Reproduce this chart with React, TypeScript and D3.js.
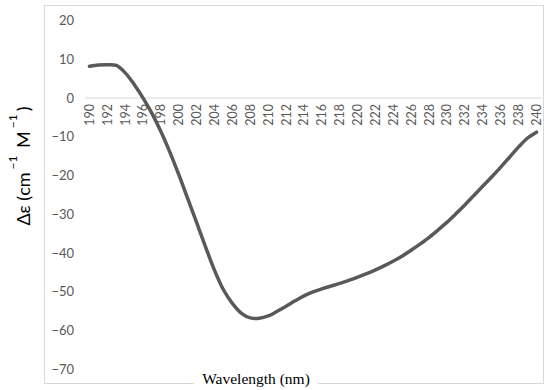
import React from 'react';
import * as d3 from 'd3';

// CD spectrum, one reading per nm
const wavelengths: number[] = d3.range(190, 241);
const deltaEps: number[] = [
  8.2, 8.5, 8.6, 8.4, 6.5, 3.5, 0, -4, -8.7, -14,
  -19.8, -26, -32.2, -38.5, -44.5, -49.5, -53, -55.5, -56.7, -56.8,
  -56.2, -55, -53.7, -52.3, -51, -50, -49.2, -48.5, -47.8, -47,
  -46.2, -45.3, -44.3, -43.2, -42, -40.7, -39.2, -37.6, -35.9, -34,
  -32, -29.8, -27.5, -25.1, -22.7, -20.3, -17.8, -15.2, -12.6, -10.3,
  -8.8,
];
const xTickLabels: number[] = d3.range(190, 241, 2);
const yTicks: number[] = [20, 10, 0, -10, -20, -30, -40, -50, -60, -70];

const W = 550;
const H = 390;
const gray = '#595959';

const App: React.FC = () => {
  // category axis: each wavelength sits in the middle of its band
  const x = d3.scaleBand<number>().domain(wavelengths).range([85, 541]);
  const cx = (w: number) => (x(w) ?? 0) + x.bandwidth() / 2;
  const y = d3.scaleLinear().domain([-70, 20]).range([369.5, 20.5]);

  const line = d3.line<number>()
    .x((_, i) => cx(wavelengths[i]))
    .y((d) => y(d))
    .curve(d3.curveCatmullRom.alpha(0.5));

  const labelFont = 'Lato, "Open Sans", sans-serif';

  return (
    <svg width={W} height={H} style={{ position: 'absolute', left: 0, top: 0, background: '#fff' }}>
      <rect x={44.5} y={5.5} width={499} height={378} fill="#fff" stroke="#d9d9d9" strokeWidth={1} />

      {/* zero line */}
      <line x1={85} x2={541} y1={y(0)} y2={y(0)} stroke="#d9d9d9" strokeWidth={1} />

      {yTicks.map((t) => (
        <text key={t} x={74} y={y(t)} dy="0.35em" textAnchor="end" fontSize={13} fill={gray} fontFamily={labelFont}>
          {t < 0 ? '\u2212' + Math.abs(t) : t}
        </text>
      ))}

      {xTickLabels.map((w) => (
        <text
          key={w}
          transform={`translate(${cx(w)},${y(0) + 6}) rotate(-90)`}
          dy="0.35em"
          textAnchor="end"
          fontSize={12.5}
          fill={gray}
          fontFamily={labelFont}
        >
          {w}
        </text>
      ))}

      <path d={line(deltaEps) ?? ''} fill="none" stroke={gray} strokeWidth={3.5} strokeLinejoin="round" strokeLinecap="round" />

      {/* y axis title */}
      <text transform="translate(30,166) rotate(-90)" textAnchor="middle" fontSize={18} fill="#000" fontFamily={labelFont}>
        Δε (cm
        <tspan dx={3} dy={-13} fontSize={12}>−1</tspan>
        <tspan dx={3} dy={13}> M</tspan>
        <tspan dx={3} dy={-13} fontSize={12}>−1</tspan>
        <tspan dx={3} dy={13}>)</tspan>
      </text>

      {/* x axis title sits over the frame */}
      <rect x={194} y={370} width={124} height={20} fill="#fff" />
      <text x={256} y={384} textAnchor="middle" fontSize={15.5} fill="#000" fontFamily='"Liberation Serif", "DejaVu Serif", serif'>
        Wavelength (nm)
      </text>
    </svg>
  );
};

export default App;
